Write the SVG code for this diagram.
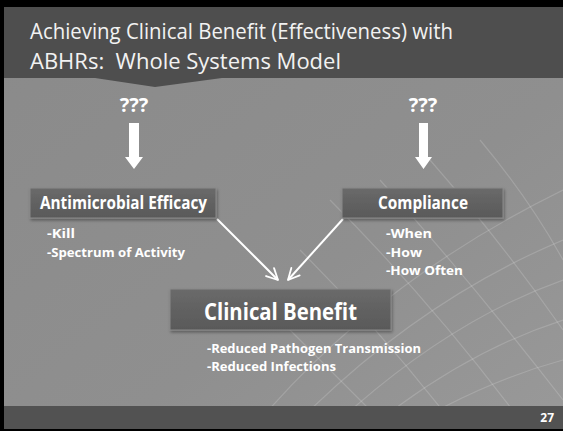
<svg xmlns="http://www.w3.org/2000/svg" width="563" height="431" viewBox="0 0 563 431">
  <defs>
    <linearGradient id="bodyGrad" x1="0" y1="0" x2="1" y2="1">
      <stop offset="0" stop-color="#8a8a8a"/>
      <stop offset="0.6" stop-color="#8f8f8f"/>
      <stop offset="1" stop-color="#999999"/>
    </linearGradient>
    <linearGradient id="boxGrad" x1="0" y1="0" x2="0" y2="1">
      <stop offset="0" stop-color="#6a6a6a"/>
      <stop offset="1" stop-color="#595959"/>
    </linearGradient>
    <clipPath id="bodyClip">
      <rect x="4" y="78" width="559" height="328"/>
    </clipPath>
    <marker id="openHead" viewBox="0 0 10 10" refX="9" refY="5" markerWidth="7" markerHeight="7" orient="auto" markerUnits="strokeWidth">
      <path d="M1,1 L9,5 L1,9" fill="none" stroke="#ffffff" stroke-width="1.3" stroke-linecap="round" stroke-linejoin="round"/>
    </marker>
    <filter id="shadow" x="-10%" y="-20%" width="120%" height="150%">
      <feDropShadow dx="1" dy="2" stdDeviation="1.5" flood-color="#000" flood-opacity="0.35"/>
    </filter>
  </defs>
  <style>
    .title { font-family: "Open Sans", "Liberation Sans", sans-serif; font-size: 21px; fill: #f2f2f2; }
    .q { font-family: "Open Sans", "Liberation Sans", sans-serif; font-size: 20px; font-weight: bold; fill: #ffffff; text-anchor: middle; }
    .box { fill: url(#boxGrad); stroke: #8a8a8a; stroke-width: 1; filter: url(#shadow); }
    .boxLabel { font-family: "Open Sans", "Liberation Sans", sans-serif; font-size: 17px; font-weight: bold; fill: #ffffff; }
    .bigLabel { font-family: "Open Sans", "Liberation Sans", sans-serif; font-size: 23px; font-weight: bold; fill: #ffffff; }
    .bullet { font-family: "Open Sans", "Liberation Sans", sans-serif; font-size: 13px; font-weight: bold; fill: #ffffff; }
    .conn { stroke: #ffffff; stroke-width: 2; fill: none; marker-end: url(#openHead); }
    .blockArrow { fill: #ffffff; }
    .mesh { stroke: #ffffff; stroke-opacity: 0.16; stroke-width: 1.2; fill: none; }
  </style>

  <!-- frame -->
  <rect x="0" y="0" width="563" height="431" fill="#000000"/>

  <!-- slide body -->
  <rect x="4" y="7" width="559" height="422" fill="url(#bodyGrad)"/>

  <!-- faint curved lattice in the background -->
  <g clip-path="url(#bodyClip)">
    <path class="mesh" d="M300,420 Q420,300 563,240"/>
    <path class="mesh" d="M340,420 Q450,320 563,280"/>
    <path class="mesh" d="M380,420 Q470,350 563,320"/>
    <path class="mesh" d="M420,420 Q490,380 563,360"/>
    <path class="mesh" d="M260,420 Q380,280 563,190"/>
    <path class="mesh" d="M330,200 Q430,300 520,420"/>
    <path class="mesh" d="M380,180 Q470,280 563,400"/>
    <path class="mesh" d="M430,160 Q500,240 563,330"/>
    <path class="mesh" d="M480,140 Q530,200 563,260"/>
    <path class="mesh" d="M300,250 Q380,330 450,420"/>
    <path class="mesh" d="M280,320 Q330,370 380,420"/>
  </g>

  <!-- header band with chevron -->
  <path d="M4,7 H563 V78 H222 L155,87 L95,78 H4 Z" fill="#4e4e4e"/>
  <text class="title" x="30" y="39" textLength="423" lengthAdjust="spacingAndGlyphs">Achieving Clinical Benefit (Effectiveness) with</text>
  <text class="title" x="30" y="69" textLength="311" lengthAdjust="spacingAndGlyphs" xml:space="preserve">ABHRs:  Whole Systems Model</text>

  <!-- footer band -->
  <rect x="4" y="406" width="559" height="23" fill="#525252"/>
  <text x="554" y="422" text-anchor="end" font-family="Open Sans, Liberation Sans, sans-serif" font-size="12" font-weight="bold" fill="#ffffff">27</text>

  <!-- connectors -->
  <g id="connectors">
    <path class="blockArrow" d="M129,123 H139 V157 H143 L134,169 L125,157 H129 Z"/>
    <path class="blockArrow" d="M419,123 H428 V157 H432 L423.5,169 L415,157 H419 Z"/>
    <line class="conn" x1="217" y1="219" x2="278" y2="280"/>
    <line class="conn" x1="343" y1="219" x2="288" y2="280"/>
  </g>

  <g id="unknown-left">
    <text class="q" x="134" y="112">???</text>
  </g>
  <g id="unknown-right">
    <text class="q" x="423" y="112">???</text>
  </g>

  <g id="antimicrobial-efficacy">
    <rect class="box" x="30" y="188" width="186" height="30"/>
    <text class="boxLabel" x="40" y="209" textLength="167" lengthAdjust="spacingAndGlyphs">Antimicrobial Efficacy</text>
    <text class="bullet" x="47" y="238" textLength="28" lengthAdjust="spacingAndGlyphs">-Kill</text>
    <text class="bullet" x="47" y="257" textLength="138" lengthAdjust="spacingAndGlyphs">-Spectrum of Activity</text>
  </g>

  <g id="compliance">
    <rect class="box" x="342" y="188" width="161" height="30"/>
    <text class="boxLabel" x="378" y="209" textLength="90" lengthAdjust="spacingAndGlyphs">Compliance</text>
    <text class="bullet" x="386" y="238" textLength="46" lengthAdjust="spacingAndGlyphs">-When</text>
    <text class="bullet" x="386" y="257" textLength="36" lengthAdjust="spacingAndGlyphs">-How</text>
    <text class="bullet" x="386" y="275" textLength="77" lengthAdjust="spacingAndGlyphs">-How Often</text>
  </g>

  <g id="clinical-benefit">
    <rect class="box" x="170" y="289" width="221" height="41"/>
    <text class="bigLabel" x="204" y="320" textLength="153" lengthAdjust="spacingAndGlyphs">Clinical Benefit</text>
    <text class="bullet" x="207" y="353" textLength="214" lengthAdjust="spacingAndGlyphs">-Reduced Pathogen Transmission</text>
    <text class="bullet" x="207" y="371" textLength="129" lengthAdjust="spacingAndGlyphs">-Reduced Infections</text>
  </g>
</svg>
